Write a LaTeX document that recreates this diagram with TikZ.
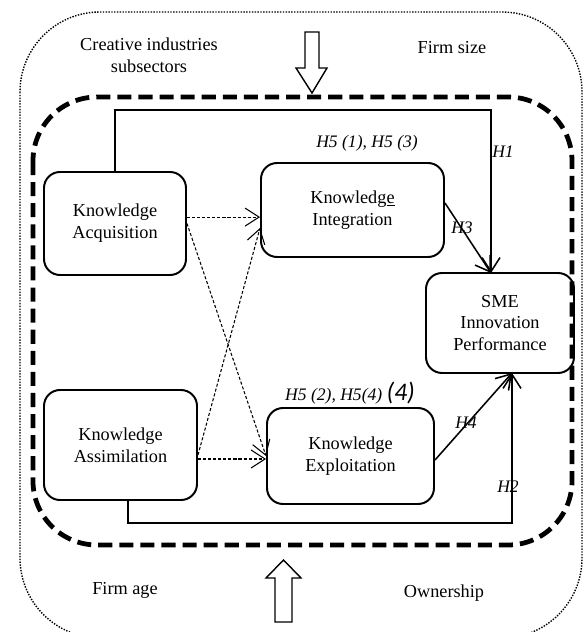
\documentclass[tikz,border=0pt]{standalone}
\usepackage{fontspec}
\setmainfont{Liberation Serif}
\newfontfamily\calfont{Carlito}
\usetikzlibrary{arrows.meta}

\begin{document}
\begin{tikzpicture}[font=\fontsize{13}{15.5}\selectfont,
  box/.style={draw, line width=1.4pt, rounded corners=0.4cm, align=center, inner sep=0pt},
  hyp/.style={font=\fontsize{12.5}{15}\selectfont\itshape},
  solarr/.style={line width=1.1pt, -{Straight Barb[length=3.5mm,width=4.5mm]}},
  dasharr/.style={line width=0.75pt, dash pattern=on 2.2pt off 1.4pt, -{Straight Barb[length=3.5mm,width=4.5mm]}},
  bigarr/.style={draw, line width=1pt, fill=white}]
\useasboundingbox (0,0) rectangle (14.575,-15.8);
\draw [line width=1pt, densely dotted, rounded corners=2cm] (0.5,-0.3) rectangle (14.55,-15.95);
\draw [line width=3.4pt, dash pattern=on 10pt off 5pt, rounded corners=1.6cm] (0.825,-2.425) rectangle (14.3,-13.625);
% control variables
\node (cis) at (3.725,-1.375) [align=center] {Creative industries\\subsectors};
\node (fsz) at (11.3,-1.2) {Firm size};
\node (fage) at (3.125,-14.75) {Firm age};
\node (own) at (11.1,-14.825) {Ownership};
\draw [bigarr] (7.625,-0.8) -- (7.975,-0.8) -- (7.975,-1.7) -- (8.175,-1.7) -- (7.8,-2.325) -- (7.4,-1.7) -- (7.625,-1.7) -- cycle;
\draw [bigarr] (6.875,-15.55) -- (7.3,-15.55) -- (7.3,-14.45) -- (7.525,-14.45) -- (7.0875,-14.0) -- (6.65,-14.45) -- (6.875,-14.45) -- cycle;
% constructs
\node (ka) at (2.875,-5.5875) [box, minimum width=3.55cm, minimum height=2.575cm] {Knowledge\\Acquisition};
\node (ki) at (8.8125,-5.25) [box, minimum width=4.575cm, minimum height=2.35cm] {Knowledg\underline{e}\\Integration};
\node (sme) at (12.5,-8.075) [box, minimum width=3.7cm, minimum height=2.5cm] {SME\\Innovation\\Performance};
\node (kas) at (3.0125,-11.125) [box, minimum width=3.825cm, minimum height=2.75cm] {Knowledge\\Assimilation};
\node (ke) at (8.7625,-11.4) [box, minimum width=4.175cm, minimum height=2.4cm] {Knowledge\\Exploitation};
% hypotheses
\node (h51) at (9.175,-3.575) [hyp] {H5 (1), H5 (3)};
\node (h52) at (8.75,-9.825) [hyp] {H5 (2), H5(4) {\calfont\fontsize{18}{20}\selectfont(4)}};
\node (h1) at (12.575,-3.8) [hyp] {H1};
\node (h3) at (11.55,-5.7) [hyp] {H3};
\node (h4) at (11.65,-10.575) [hyp] {H4};
\node (h2) at (12.7,-12.175) [hyp] {H2};
\coordinate (htop) at (12.275,-2.75);
\coordinate (smein) at (12.275,-6.825);
\coordinate (hbot) at (12.8,-13.075);
\coordinate (smeout) at (12.8,-9.325);
\draw [solarr] (ka.north) |- (htop) -- (smein);
\draw [solarr] ([yshift=0.175cm]ki.east) -- (smein);
\draw [solarr] ([yshift=-0.1cm]ke.east) -- (smeout);
\draw [solarr] ([xshift=0.19cm]kas.south) |- (hbot) -- (smeout);
\draw [dasharr] ([yshift=0.16cm]ka.east) -- ([yshift=0.16cm]ka.east -| ki.west);
\draw [dasharr] (ka.east) -- (ke.west);
\draw [dasharr] ([yshift=-0.25cm]kas.east) -- ([yshift=-0.45cm]ki.west);
\draw [dasharr] ([yshift=-0.35cm]kas.east) -- ([yshift=-0.35cm]kas.east -| ke.west);
\end{tikzpicture}
\end{document}
